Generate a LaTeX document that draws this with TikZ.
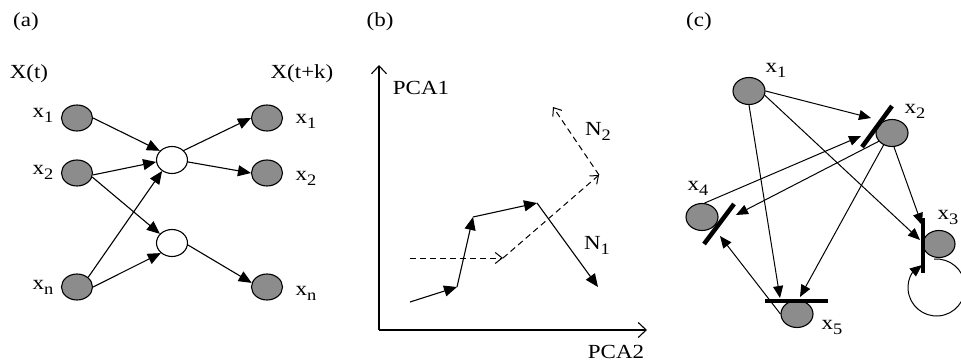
\documentclass[tikz,border=0pt]{standalone}
\usepackage{fontspec}
\setmainfont{Liberation Serif}[FakeStretch=1.15]
\usetikzlibrary{arrows.meta,shapes.geometric}

\newcommand{\subi}[1]{\raisebox{-5pt}{\fontsize{16}{16}\selectfont #1}}
\newcommand{\xsub}[1]{x\subi{#1}}

\tikzset{
  state/.style={ellipse, draw, fill=gray!90, line width=1.1pt, inner sep=0pt,
    minimum width=31pt, minimum height=26pt},
  hidden/.style={state, fill=white, minimum height=27pt},
  lbl/.style={inner sep=0pt, font=\fontsize{20}{22}\selectfont},
  edge/.style={-{Triangle[length=13pt,width=11pt]}, line width=1.1pt},
  thin edge/.style={-{Triangle[length=12pt,width=10pt]}, line width=1pt},
  dash edge/.style={-{Straight Barb[length=7pt,width=11pt]}, line width=1pt,
    dash pattern=on 6pt off 4pt},
  axis/.style={-{Straight Barb[length=8pt,width=15pt]}, line width=1.1pt},
  bar/.style={line width=4.5pt}
}

\begin{document}
\begin{tikzpicture}[x=1pt, y=1pt]
    \useasboundingbox (0,0) rectangle (961,362);
    \clip (0,0) rectangle (961,362);

    % (a) Nodes
    \node[lbl] (la) at (26, 340) {(a)};
    \node[lbl] (Xt) at (29, 288) {X(t)};
    \node[lbl] (Xtk) at (302, 288) {X(t+k)};
    \node[state] (L1) at (77, 244) {};
    \node[state] (L2) at (77, 189) {};
    \node[state] (Ln) at (77, 75) {};
    \node[hidden] (H1) at (172, 202) {};
    \node[hidden] (H2) at (172, 119) {};
    \node[state] (R1) at (267, 244) {};
    \node[state] (R2) at (267, 189) {};
    \node[state] (Rn) at (267, 75) {};
    \node[lbl] (lL1) at (43, 247) {\xsub{1}};
    \node[lbl] (lL2) at (43, 190) {\xsub{2}};
    \node[lbl] (lLn) at (43, 75) {\xsub{n}};
    \node[lbl] (lR1) at (306, 241) {\xsub{1}};
    \node[lbl] (lR2) at (306, 184) {\xsub{2}};
    \node[lbl] (lRn) at (306, 69) {\xsub{n}};

    % (a) Edges
    \draw[edge] (L1.east) -- (H1.143);
    \draw[edge] (L2.353) -- (H1.187);
    \draw[edge] (L2.345) -- (H2.143);
    \draw[edge] (Ln.41) -- (H1.228);
    \draw[edge] (Ln.east) -- (H2.222);
    \draw[edge] (H1.39) -- (R1.west);
    \draw[edge] (H1.353) -- (R2.west);
    \draw[edge] (H2.353) -- (Rn.165);

    % (b) Nodes
    \node[lbl] (lb) at (380, 340) {(b)};
    \coordinate (O) at (379, 32);
    \coordinate (ytop) at (379, 297);
    \coordinate (xend) at (647, 32);
    \node[lbl] (pca1) at (421, 274) {PCA1};
    \node[lbl] (pca2) at (616, 10) {PCA2};
    \coordinate (s0) at (410, 60);
    \coordinate (s1) at (457, 75);
    \coordinate (s2) at (473, 145);
    \coordinate (s3) at (537, 159);
    \coordinate (s4) at (598, 75);
    \coordinate (d0) at (410, 104);
    \coordinate (d1) at (503, 104);
    \coordinate (d2) at (599, 187);
    \coordinate (d3) at (553, 255);
    \node[lbl] (N2) at (598, 231) {N\subi{2}};
    \node[lbl] (N1) at (597, 117) {N\subi{1}};

    % (b) Edges
    \draw[axis] (O) -- (ytop);
    \draw[axis] (O) -- (xend);
    \draw[edge] (s0) -- (s1);
    \draw[edge] (s1) -- (s2);
    \draw[edge] (s2) -- (s3);
    \draw[edge] (s3) -- (s4);
    \draw[dash edge] (d0) -- (d1);
    \draw[dash edge] (d1) -- (d2);
    \draw[dash edge] (d2) -- (d3);

    % (c) Nodes
    \node[lbl] (lc) at (699, 340) {(c)};
    \node[state, minimum width=32pt, minimum height=27pt] (X1) at (749, 271) {};
    \node[state, minimum width=32pt, minimum height=27pt] (X2) at (892, 229) {};
    \node[state, minimum width=32pt, minimum height=27pt] (X3) at (939, 118) {};
    \node[state, minimum width=32pt, minimum height=27pt] (X4) at (702, 145) {};
    \node[state, minimum width=32pt, minimum height=27pt] (X5) at (797, 48) {};
    \node[lbl] (lx1) at (776, 292) {\xsub{1}};
    \node[lbl] (lx2) at (915, 251) {\xsub{2}};
    \node[lbl] (lx3) at (948, 145) {\xsub{3}};
    \node[lbl] (lx4) at (698, 174) {\xsub{4}};
    \node[lbl] (lx5) at (832, 35) {\xsub{5}};

    % (c) Bars
    \coordinate (b2a) at (892, 256);
    \coordinate (b2b) at (862, 215);
    \coordinate (b4a) at (734, 158);
    \coordinate (b4b) at (704, 118);
    \coordinate (b3a) at (923, 144);
    \coordinate (b3b) at (923, 89);
    \coordinate (b5a) at (765, 61);
    \coordinate (b5b) at (828, 61);
    \draw[bar] (b2a) -- (b2b);
    \draw[bar] (b4a) -- (b4b);
    \draw[bar] (b3a) -- (b3b);
    \draw[bar] (b5a) -- (b5b);

    % (c) Edges
    \coordinate (t12) at (871, 244);
    \coordinate (t42) at (861, 226);
    \coordinate (t15) at (780, 64);
    \coordinate (t25) at (800, 65);
    \coordinate (t24) at (736, 147);
    \coordinate (t54) at (720, 126);
    \coordinate (t13) at (920, 122);
    \coordinate (t23) at (922, 137);
    \coordinate (t33) at (922, 97);
    \coordinate (loop) at (936.5, 74.5);
    \draw[thin edge] (X1.east) -- (t12);
    \draw[thin edge] (X1.south) -- (t15);
    \draw[thin edge] (X1.-15) -- (t13);
    \draw[thin edge] (X4.80) -- (t42);
    \draw[thin edge] (X2.212) -- (t24);
    \draw[thin edge] (X2.235) -- (t25);
    \draw[thin edge] (X2.278) -- (t23);
    \draw[thin edge] (X5.west) -- (t54);
    \draw[thin edge] ([shift={(95:28.5)}]loop) arc[start angle=95, end angle=-210, radius=28.5] -- (t33);
\end{tikzpicture}
\end{document}
